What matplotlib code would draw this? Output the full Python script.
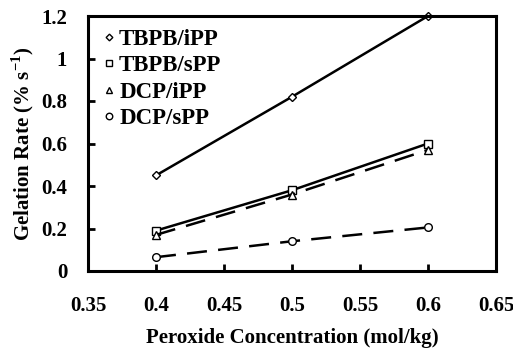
import matplotlib
matplotlib.use("Agg")
import matplotlib.pyplot as plt

plt.rcParams['font.family'] = ['Liberation Serif', 'DejaVu Serif']
plt.rcParams['font.weight'] = 'bold'
plt.rcParams['mathtext.fontset'] = 'custom'
plt.rcParams['mathtext.rm'] = 'Liberation Serif:bold'

conc = [0.4, 0.5, 0.6]
tbpb_ipp = [0.45, 0.82, 1.2]
tbpb_spp = [0.19, 0.38, 0.60]
dcp_ipp = [0.17, 0.36, 0.57]
dcp_spp = [0.065, 0.14, 0.205]

fig = plt.figure(figsize=(5.13, 3.49), dpi=100)
ax = fig.add_axes([88 / 513, 1 - 271 / 349, (496 - 88) / 513, (271 - 16) / 349])

mk = dict(color='black', markerfacecolor='white', markeredgecolor='black',
          markersize=5.5, markeredgewidth=1.0, clip_on=False)
ax.plot(conc, tbpb_ipp, '-', marker='D', lw=1.8, label='TBPB/iPP', **{**mk, 'markersize': 4})
ax.plot(conc, tbpb_spp, '-', marker='s', lw=1.8, label='TBPB/sPP', **mk)
ax.plot(conc, dcp_ipp, '--', marker='^', lw=1.8, dashes=(8, 4.5), label='DCP/iPP', **mk)
ax.plot(conc, dcp_spp, '--', marker='o', lw=1.8, dashes=(8, 4.5), label='DCP/sPP', **mk)

ax.set_xlim(0.35, 0.65)
ax.set_ylim(0, 1.2)
ax.set_xticks([0.35, 0.4, 0.45, 0.5, 0.55, 0.6, 0.65])
ax.set_xticklabels(['0.35', '0.4', '0.45', '0.5', '0.55', '0.6', '0.65'])
ax.set_yticks([0, 0.2, 0.4, 0.6, 0.8, 1, 1.2])
ax.set_yticklabels(['0', '0.2', '0.4', '0.6', '0.8', '1', '1.2'])
ax.tick_params(direction='in', length=5, width=2, labelsize=15)
ax.tick_params(axis='x', pad=18)
ax.tick_params(axis='y', pad=15)
for s in ax.spines.values():
    s.set_linewidth(2.2)

ax.set_xlabel('Peroxide Concentration (mol/kg)', fontsize=15, fontweight='bold', labelpad=9)
ax.set_ylabel('Gelation Rate (% s$^{-1}$)', fontsize=15, fontweight='bold', labelpad=4)

leg = ax.legend(loc='upper left', bbox_to_anchor=(0.02, 1.0), frameon=False,
                fontsize=16.5, handlelength=0, handletextpad=0.45,
                labelspacing=0.24, borderaxespad=0.25, borderpad=0.3,
                markerscale=0.85)
for h in leg.legend_handles:
    h.set_linestyle('none')

fig.savefig('out.png', dpi=100)
